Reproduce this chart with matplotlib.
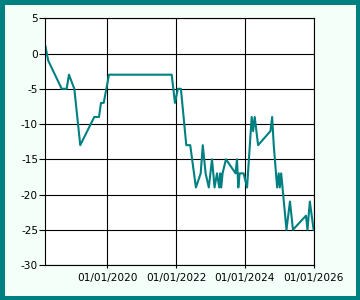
import numpy as np
import pandas as pd
import matplotlib
matplotlib.use("Agg")
import matplotlib.pyplot as plt
import matplotlib.dates as mdates

# dates and values
dates = pd.to_datetime([
    "2018-03-18", "2018-04-16", "2018-09-06", "2018-10-29", "2018-11-22",
    "2019-01-18", "2019-03-22", "2019-08-18", "2019-10-07", "2019-10-28",
    "2019-11-26", "2020-01-21", "2021-11-16", "2021-12-21", "2022-01-21",
    "2022-02-22", "2022-04-20", "2022-06-01", "2022-07-31", "2022-09-20",
    "2022-10-12", "2022-11-11", "2022-12-15", "2023-01-18", "2023-02-14",
    "2023-03-12", "2023-04-05", "2023-04-16", "2023-04-26", "2023-05-10",
    "2023-06-15", "2023-09-25", "2023-10-10", "2023-10-24", "2023-11-07",
    "2023-12-19", "2024-01-25", "2024-03-14", "2024-03-29", "2024-04-15",
    "2024-05-21", "2024-09-29", "2024-10-17", "2024-11-03", "2024-12-09",
    "2024-12-26", "2025-01-06", "2025-01-21", "2025-02-04", "2025-03-18",
    "2025-04-24", "2025-05-26", "2025-10-11", "2025-10-27", "2025-11-21",
    "2025-12-31",
])
values = [
    1, -1, -5, -5, -3,
    -5, -13, -9, -9, -7,
    -7, -3, -3, -7, -5,
    -5, -13, -13, -19, -17,
    -13, -17, -19, -15, -19,
    -17, -19, -17, -19, -17,
    -15, -17, -15, -19, -17,
    -17, -19, -9, -11, -9,
    -13, -11, -9, -13, -19,
    -17, -19, -17, -19, -25,
    -21, -25, -23, -25, -21,
    -25,
]
y_ticks = [5, 0, -5, -10, -15, -20, -25, -30]

teal = "#008080"
plt.rcParams["font.family"] = "DejaVu Sans"
plt.rcParams["font.size"] = 7.6
plt.rcParams["axes.unicode_minus"] = False

fig = plt.figure(figsize=(3.6, 3.0), dpi=100)
fig.patch.set_facecolor("#F5FFFA")
fig.patch.set_edgecolor(teal)
fig.patch.set_linewidth(6.2)

ax = fig.add_axes([0.125, 0.1167, 0.7464, 0.8223])
ax.set_facecolor("white")
ax.plot(dates, values, color=teal, linewidth=1.5)

ax.set_ylim(-30, 5)
ax.set_yticks(y_ticks)
ax.set_xlim(pd.Timestamp("2018-03-13"), pd.Timestamp("2026-01-01"))
ax.xaxis.set_major_locator(mdates.YearLocator(2))
ax.xaxis.set_major_formatter(mdates.DateFormatter("%d/%m/%Y"))

ax.grid(True, color="black", linewidth=0.8)
ax.set_axisbelow(True)
for s in ax.spines.values():
    s.set_color("black")
    s.set_linewidth(0.8)
ax.tick_params(axis="y", length=4, width=0.8, pad=1, colors="black")
ax.tick_params(axis="x", length=2.5, width=0.8, pad=3, colors="black")

fig.savefig("out.png", dpi=100, facecolor=fig.get_facecolor(), edgecolor=teal)
